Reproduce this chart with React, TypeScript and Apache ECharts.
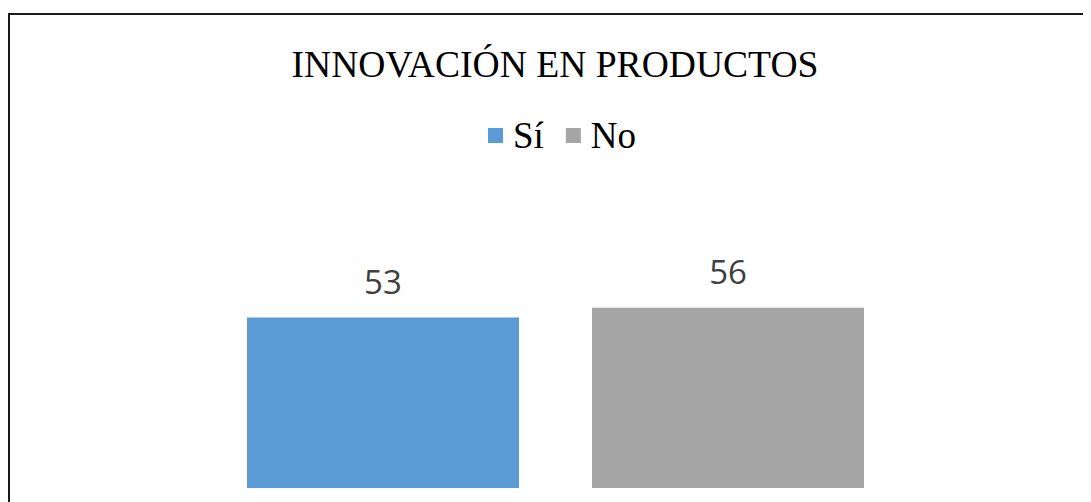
import React, { useEffect, useRef } from "react";
import * as echarts from "echarts";

const titleText = "INNOVACIÓN EN PRODUCTOS";
const categories = [""];
const seriesNames = ["Sí", "No"];
const siValues = [53];
const noValues = [56];
const colors = ["#5B9BD5", "#A5A5A5"];

export default function App() {
  const ref = useRef<HTMLDivElement>(null);
  useEffect(() => {
    if (!ref.current) return;
    const chart = echarts.init(ref.current, null, { renderer: "svg" });
    const labelStyle = {
      show: true,
      position: "top",
      distance: 20,
      fontFamily: "Open Sans",
      fontSize: 33,
      color: "#404040",
    };
    chart.setOption({
      animation: false,
      title: {
        text: titleText,
        left: 542,
        textAlign: "center",
        top: 32,
        textStyle: {
          fontFamily: "Liberation Serif",
          fontSize: 37.6,
          fontWeight: "normal",
          color: "#000000",
        },
      },
      legend: {
        data: seriesNames,
        left: 475,
        top: 104,
        itemWidth: 15,
        itemHeight: 15,
        itemGap: 22,
        icon: "rect",
        textStyle: {
          fontFamily: "Liberation Serif",
          fontSize: 37,
          color: "#000000",
          padding: [0, 0, 0, 5],
        },
      },
      grid: { left: 100, right: 88, top: 287, bottom: 14 },
      xAxis: {
        type: "category",
        data: categories,
        show: false,
      },
      yAxis: {
        type: "value",
        min: 0,
        max: 60,
        show: false,
        splitLine: { show: false },
      },
      graphic: [
        { type: "rect", shape: { x: 0, y: 5, width: 2, height: 489 }, style: { fill: "#1a1a1a" } },
        { type: "rect", shape: { x: 0, y: 5, width: 1083, height: 2 }, style: { fill: "#1a1a1a" } },
      ],
      series: [
        {
          name: seriesNames[0],
          type: "bar",
          data: siValues,
          barWidth: 272,
          barGap: "26.84%",
          itemStyle: { color: colors[0] },
          label: labelStyle,
        },
        {
          name: seriesNames[1],
          type: "bar",
          data: noValues,
          barWidth: 272,
          barGap: "26.84%",
          itemStyle: { color: colors[1] },
          label: labelStyle,
        },
      ],
    });
    return () => chart.dispose();
  }, []);
  return <div ref={ref} style={{ width: 1083, height: 494 }} />;
}
